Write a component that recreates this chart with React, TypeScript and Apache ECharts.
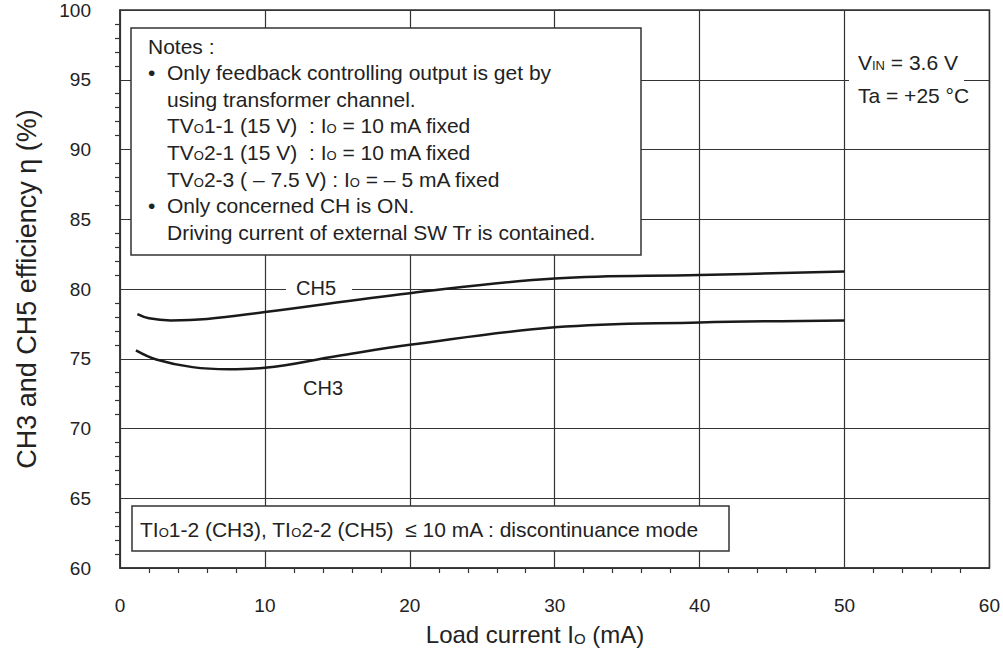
import React, { useEffect, useRef } from "react";
import * as echarts from "echarts";

const ch5Data: [number, number][] = [
  [1.2, 78.2], [2, 77.9], [3.5, 77.75], [6, 77.85], [10, 78.35],
  [20, 79.7], [30, 80.75], [40, 81.0], [50, 81.25],
];
const ch3Data: [number, number][] = [
  [1.1, 75.6], [2.5, 74.95], [5, 74.4], [7.5, 74.25], [10, 74.35],
  [15, 75.2], [20, 76.0], [30, 77.25], [40, 77.6], [50, 77.75],
];
const xTicks = [0, 10, 20, 30, 40, 50, 60];
const yTicks = [60, 65, 70, 75, 80, 85, 90, 95, 100];

const noteLines: string[] = [
  "Notes :",
  "•",
  "Only feedback controlling output is get by",
  "using transformer channel.",
  "TV{s|O}1-1 (15 V)  : I{s|O} = 10 mA fixed",
  "TV{s|O}2-1 (15 V)  : I{s|O} = 10 mA fixed",
  "TV{s|O}2-3 ( – 7.5 V) : I{s|O} = – 5 mA fixed",
  "•",
  "Only concerned CH is ON.",
  "Driving current of external SW Tr is contained.",
];

const FONT = "'Liberation Sans', Arial, sans-serif";
const NARROW = "'Liberation Sans Narrow', 'Liberation Sans', Arial, sans-serif";
const INK = "#222";

export default function App() {
  const ref = useRef<HTMLDivElement>(null);
  useEffect(() => {
    if (!ref.current) return;
    const chart = echarts.init(ref.current, undefined, { renderer: "svg" });
    const mkRich = (sz: number) => ({
      s: { fontSize: sz, fontFamily: FONT, fill: INK, verticalAlign: "bottom", padding: [0, 0, 1, 0] },
    });
    const txt = (x: number, y: number, text: string, size = 21, extra: any = {}) => ({
      type: "text",
      x,
      y,
      z: 20,
      style: {
        text,
        fontSize: size,
        fontFamily: FONT,
        fill: INK,
        textVerticalAlign: "middle",
        verticalAlign: "middle",
        rich: mkRich(Math.round(size * 0.62)),
        ...extra,
      },
    });
    const noteY = [46, 72.6, 72.6, 99.2, 125.8, 152.4, 179, 205.6, 205.6, 232.2];
    const noteX = [148, 148, 167, 167, 167, 167, 167, 148, 167, 167];
    const notes = noteLines.map((t, i) => txt(noteX[i], noteY[i], t, 21));

    chart.setOption({
      animation: false,
      backgroundColor: "#fff",
      grid: {
        left: 120,
        top: 10,
        width: 872,
        height: 558,
        show: true,
        borderColor: "#333",
        borderWidth: 1.5,
        backgroundColor: "transparent",
      },
      xAxis: {
        type: "value",
        min: xTicks[0],
        max: xTicks[xTicks.length - 1],
        interval: 10,
        axisLine: { show: true, lineStyle: { color: "#333", width: 1.5 } },
        axisTick: { show: false },
        minorTick: { show: true, splitNumber: 5, length: 5, lineStyle: { color: "#333", width: 1.2 } },
        axisLabel: { color: INK, fontSize: 19, fontFamily: NARROW, margin: 28 },
        splitLine: { show: true, lineStyle: { color: "#333", width: 1.2 } },
      },
      yAxis: {
        type: "value",
        min: yTicks[0],
        max: yTicks[yTicks.length - 1],
        interval: 5,
        name: "CH3 and CH5 efficiency η (%)",
        nameLocation: "middle",
        nameGap: 80,
        nameTextStyle: { color: INK, fontSize: 27, fontFamily: FONT },
        axisLine: { show: true, lineStyle: { color: "#333", width: 1.5 } },
        axisTick: { show: false },
        minorTick: { show: true, splitNumber: 5, length: 5, lineStyle: { color: "#333", width: 1.2 } },
        axisLabel: { color: INK, fontSize: 19, fontFamily: NARROW, margin: 29 },
        splitLine: { show: true, lineStyle: { color: "#333", width: 1.2 } },
      },
      series: [
        {
          name: "CH5",
          type: "line",
          data: ch5Data,
          smooth: 0.4,
          showSymbol: false,
          lineStyle: { color: "#1a1a1a", width: 2.5 },
          z: 5,
        },
        {
          name: "CH3",
          type: "line",
          data: ch3Data,
          smooth: 0.4,
          showSymbol: false,
          lineStyle: { color: "#1a1a1a", width: 2.5 },
          z: 5,
        },
      ],
      graphic: [
        {
          type: "rect",
          z: 10,
          shape: { x: 131, y: 28, width: 510, height: 227 },
          style: { fill: "#fff", stroke: "#333", lineWidth: 1.5 },
        },
        ...notes,
        {
          type: "rect",
          z: 10,
          shape: { x: 849, y: 48, width: 115, height: 62 },
          style: { fill: "#fff" },
        },
        txt(858, 62, "V{s|IN} = 3.6 V", 21),
        txt(858, 95, "Ta = +25 °C", 21),
        {
          type: "rect",
          z: 10,
          shape: { x: 286, y: 279, width: 66, height: 20 },
          style: { fill: "#fff" },
        },
        txt(316, 288, "CH5", 20, { textAlign: "center", align: "center" }),
        txt(323, 388, "CH3", 20, { textAlign: "center", align: "center" }),
        {
          type: "rect",
          z: 10,
          shape: { x: 132, y: 506, width: 597, height: 45 },
          style: { fill: "#fff", stroke: "#333", lineWidth: 1.5 },
        },
        txt(140, 529, "TI{s|O}1-2 (CH3), TI{s|O}2-2 (CH5)  ≤ 10 mA : discontinuance mode", 21),
        txt(535, 634, "Load current I{s|O} (mA)", 24, {
          textAlign: "center",
          align: "center",
          fontFamily: NARROW,
          rich: { s: { fontSize: 15, fontFamily: FONT, fill: INK, verticalAlign: "bottom" } },
        }),
      ],
    });
    return () => chart.dispose();
  }, []);
  return (
    <div
      ref={ref}
      style={{ position: "fixed", left: 0, top: 0, width: 1003, height: 651, background: "#fff" }}
    />
  );
}
